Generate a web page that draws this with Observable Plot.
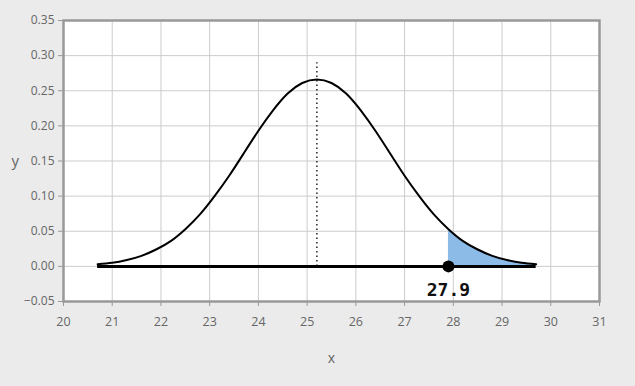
<!DOCTYPE html>
<html>
<head>
<meta charset="utf-8">
<script src="https://cdn.jsdelivr.net/npm/d3@7"></script>
<script src="https://cdn.jsdelivr.net/npm/@observablehq/plot@0.6"></script>
<style>
  html, body { margin: 0; padding: 0; background: #ebebeb; }
  #chart { width: 635px; height: 386px; }
</style>
</head>
<body>
<div id="chart"></div>
<script>
// Density curve
const xs = [20.7, 21.0, 21.3, 21.6, 21.9, 22.2, 22.5, 22.8, 23.1, 23.4, 23.7, 24.0, 24.3, 24.6, 24.9, 25.2,
            25.5, 25.8, 26.1, 26.4, 26.7, 27.0, 27.3, 27.6, 27.9, 28.2, 28.5, 28.8, 29.1, 29.4, 29.7];
const ys = [0.003, 0.005, 0.009, 0.015, 0.024, 0.036, 0.053, 0.074, 0.100, 0.129, 0.161, 0.193, 0.222, 0.246, 0.261, 0.266,
            0.261, 0.246, 0.222, 0.193, 0.161, 0.129, 0.100, 0.074, 0.053, 0.036, 0.024, 0.015, 0.009, 0.005, 0.003];
const meanX = 25.2;
const meanLineTop = 0.29;
const markX = 27.9;
const markLabel = "27.9";
const xTicks = [20, 21, 22, 23, 24, 25, 26, 27, 28, 29, 30, 31];
const yTicks = [-0.05, 0, 0.05, 0.10, 0.15, 0.20, 0.25, 0.30, 0.35];

const curve = xs.map((x, i) => ({x, y: ys[i]}));
const tail = curve.filter(d => d.x >= markX);

const chart = Plot.plot({
  width: 635,
  height: 386,
  marginLeft: 63,
  marginRight: 36,
  marginTop: 20,
  marginBottom: 85,
  style: {background: "#ebebeb", fontFamily: "'Open Sans', sans-serif", fontSize: "12px", color: "#666"},
  x: {domain: [20, 31]},
  y: {domain: [-0.05, 0.35]},
  marks: [
    Plot.frame({fill: "white", stroke: null}),
    Plot.gridX(xTicks, {stroke: "#cccccc", strokeOpacity: 1}),
    Plot.gridY(yTicks, {stroke: "#cccccc", strokeOpacity: 1}),
    Plot.axisX(xTicks, {tickSize: 5, tickPadding: 11, stroke: "#999", fill: "#666", label: null, tickFormat: d => d, fontSize: 12.5}),
    Plot.axisY(yTicks, {tickSize: 5, tickPadding: 4, stroke: "#999", fill: "#666", label: null, tickFormat: d3.format(".2f"), fontSize: 12}),
    Plot.areaY(tail, {x: "x", y1: 0, y2: "y", fill: "#8dbbe8", curve: "natural"}),
    Plot.ruleX([meanX], {y1: 0, y2: meanLineTop, stroke: "#222", strokeWidth: 1.5, strokeDasharray: "1.5,3"}),
    Plot.line(curve, {x: "x", y: "y", stroke: "black", strokeWidth: 2, curve: "natural"}),
    Plot.ruleY([0], {x1: xs[0], x2: xs[xs.length - 1], stroke: "black", strokeWidth: 3}),
    Plot.dot([markX], {x: d => d, y: 0, r: 6, fill: "black", stroke: null}),
    Plot.text([markLabel], {x: markX, y: 0, dy: 24, text: d => d, fontSize: 18, fontWeight: "bold", fill: "#111", fontFamily: "'DejaVu Sans Mono', monospace"}),
    Plot.frame({stroke: "#999", strokeWidth: 2.5}),
    Plot.text(["x"], {frameAnchor: "bottom", dy: 61, text: d => d, fontSize: 14, fill: "#666"}),
    Plot.text(["y"], {frameAnchor: "left", dx: -52, text: d => d, fontSize: 15, fill: "#666"})
  ]
});
document.getElementById("chart").append(chart);
</script>
</body>
</html>
